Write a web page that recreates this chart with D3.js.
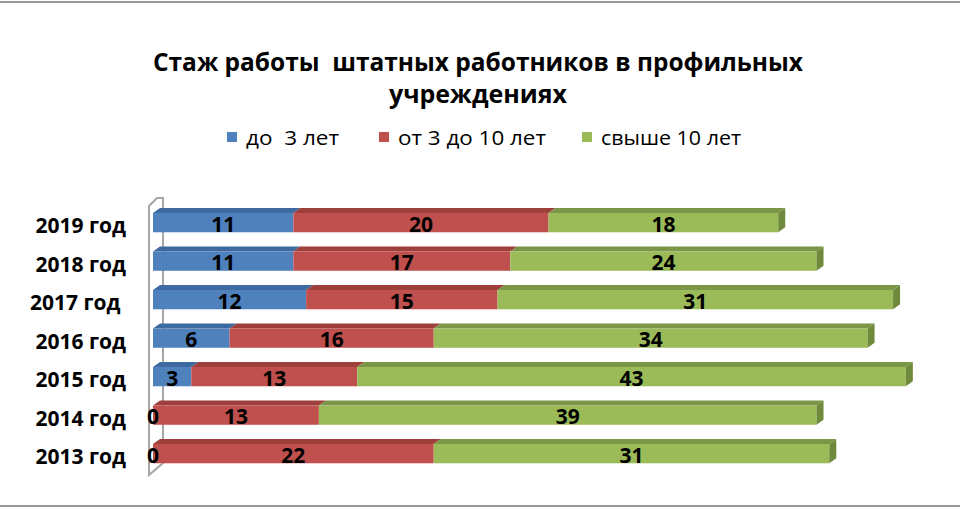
<!DOCTYPE html>
<html>
<head>
<meta charset="utf-8">
<script src="https://cdn.jsdelivr.net/npm/d3@7"></script>
<style>
  html, body { margin: 0; padding: 0; background: #fff; }
  svg { display: block; }
  text { font-family: "Open Sans", "Noto Sans", sans-serif; }
</style>
</head>
<body>
<svg id="chart" width="960" height="510"></svg>
<script>
const titleLines = ["Стаж работы  штатных работников в профильных", "учреждениях"];
const categories = ["2019 год", "2018 год", "2017 год ", "2016 год", "2015 год", "2014 год", "2013 год"];
const seriesNames = ["до  3 лет", "от 3 до 10 лет", "свыше 10 лет"];
const under3 = [11, 11, 12, 6, 3, 0, 0];
const from3to10 = [20, 17, 15, 16, 13, 13, 22];
const over10 = [18, 24, 31, 34, 43, 39, 31];

const colors = ["#4F81BD", "#C0504D", "#9BBB59"];
const topColors = ["#3D6AA0", "#9E3F3C", "#7A9646"];
const sideColor = "#6F8A3A";

const svg = d3.select("#chart");
const W = 960, H = 510;

// frame lines
svg.append("line").attr("x1", 0).attr("x2", W).attr("y1", 2).attr("y2", 2)
  .attr("stroke", "#9a9a9a").attr("stroke-width", 2);
svg.append("line").attr("x1", 0).attr("x2", W).attr("y1", 506).attr("y2", 506)
  .attr("stroke", "#9a9a9a").attr("stroke-width", 2);

// title
const titleWidths = [650, 178];
const titleY = [71, 103];
titleLines.forEach((line, i) => {
  svg.append("text").attr("x", 478).attr("y", titleY[i]).attr("text-anchor", "middle")
    .attr("font-weight", "700").attr("font-size", 25).attr("fill", "#000")
    .attr("textLength", titleWidths[i]).attr("lengthAdjust", "spacingAndGlyphs")
    .style("white-space", "pre").text(line);
});

// legend
const legendX = [227, 379, 582];
const legendW = [93, 148, 140];
const legend = svg.append("g");
seriesNames.forEach((name, i) => {
  legend.append("rect").attr("x", legendX[i]).attr("y", 132).attr("width", 10).attr("height", 10)
    .attr("fill", colors[i]);
  legend.append("text").attr("x", legendX[i] + 19).attr("y", 145)
    .attr("font-size", 20).attr("fill", "#000")
    .attr("textLength", legendW[i]).attr("lengthAdjust", "spacingAndGlyphs")
    .style("white-space", "pre").text(name);
});

// scales
const x = d3.scaleLinear().domain([0, 60]).range([153, 918.6]);
const y = d3.scaleBand().domain(categories).range([203.4, 472.9]).paddingInner(0.5).paddingOuter(0.25);
const dx = 7, dy = 5;

// wall (3D side wall bracket)
svg.append("path")
  .attr("d", "M149,475 L149,206 L157,198 L163,198 L163,463 Z")
  .attr("fill", "none").attr("stroke", "#a6a6a6").attr("stroke-width", 2);

const stackData = categories.map((c, i) => ({ cat: c, vals: [under3[i], from3to10[i], over10[i]] }));

const bars = svg.append("g");
stackData.forEach(d => {
  const yTop = y(d.cat), h = y.bandwidth();
  let acc = 0;
  const segs = d.vals.map((v, k) => {
    const s = { k, v, x0: x(acc), x1: x(acc + v) };
    acc += v;
    return s;
  });
  const g = bars.append("g");
  segs.forEach(s => {
    if (s.v <= 0) return;
    g.append("path")
      .attr("d", `M${s.x0},${yTop} L${s.x0 + dx},${yTop - dy} L${s.x1 + dx},${yTop - dy} L${s.x1},${yTop} Z`)
      .attr("fill", topColors[s.k]);
    g.append("rect").attr("x", s.x0).attr("y", yTop).attr("width", s.x1 - s.x0).attr("height", h)
      .attr("fill", colors[s.k]);
  });
  const last = segs[segs.length - 1];
  g.append("path")
    .attr("d", `M${last.x1},${yTop} L${last.x1 + dx},${yTop - dy} L${last.x1 + dx},${yTop + h - dy} L${last.x1},${yTop + h} Z`)
    .attr("fill", sideColor);
  segs.forEach(s => {
    g.append("text")
      .attr("x", (s.x0 + s.x1) / 2).attr("y", yTop + h / 2 + 1)
      .attr("text-anchor", "middle").attr("dominant-baseline", "central")
      .attr("font-weight", "700").attr("font-size", 21).attr("fill", "#000")
      .text(s.v);
  });
});

// category labels
const yAxis = d3.axisLeft(y).tickSize(0).tickPadding(0);
const ax = svg.append("g").attr("transform", "translate(126,4)").call(yAxis);
ax.select(".domain").remove();
ax.selectAll("text")
  .attr("font-size", 21).attr("font-weight", "700").attr("fill", "#000")
  .attr("font-family", "'Open Sans', 'Noto Sans', sans-serif")
  .style("white-space", "pre");
</script>
</body>
</html>
